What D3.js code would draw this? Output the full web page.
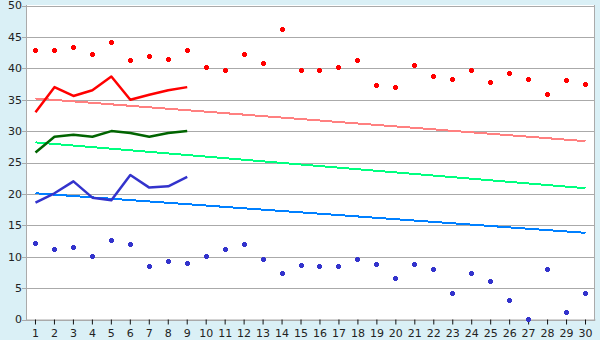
<!DOCTYPE html>
<html>
<head>
<meta charset="utf-8">
<script src="https://cdn.jsdelivr.net/npm/d3@7"></script>
<style>
  body { margin: 0; background: #daf0f6; }
  svg { display: block; font-family: "DejaVu Sans", Verdana, sans-serif; }
</style>
</head>
<body>
<svg width="600" height="340"></svg>
<script>
var svg = d3.select('svg');

// categories (days)
var days = d3.range(1, 31).map(String);
var yTicks = [0, 5, 10, 15, 20, 25, 30, 35, 40, 45, 50];

// scatter series
var redPoints = [42.7, 42.7, 43.2, 42.1, 44.0, 41.1, 41.8, 41.3, 42.7, 40.0,
                 39.5, 42.1, 40.7, 46.1, 39.5, 39.5, 40.0, 41.1, 37.2, 36.8,
                 40.3, 38.6, 38.1, 39.5, 37.6, 39.1, 38.1, 35.7, 37.9, 37.3];
var bluePoints = [12.0, 11.1, 11.4, 10.0, 12.5, 11.9, 8.4, 9.2, 8.8, 10.0,
                  11.1, 11.9, 9.5, 7.2, 8.5, 8.4, 8.4, 9.5, 8.7, 6.4,
                  8.7, 7.9, 4.0, 7.2, 6.0, 2.9, 0.0, 7.9, 1.0, 4.0];

// line series (first 9 days)
var redLine = [33.0, 37.0, 35.6, 36.5, 38.7, 35.0, 35.8, 36.5, 37.0];
var greenLine = [26.6, 29.1, 29.4, 29.1, 30.0, 29.7, 29.1, 29.7, 30.0];
var blueLine = [18.6, 20.1, 22.0, 19.4, 19.0, 23.0, 21.0, 21.2, 22.7];

// trend lines: value at day 1 and day 30
var redTrend = [35.2, 28.4];
var greenTrend = [28.2, 20.9];
var blueTrend = [20.1, 13.8];

var plotL = 26, plotR = 595, plotT = 5, plotB = 320;

var x = d3.scaleBand().domain(days).range([plotL, plotR]);
var cx = function(d) { return x(d) + x.bandwidth() / 2; };
var y = d3.scaleLinear().domain([0, 50]).range([plotB - 0.5, plotT + 0.5]);

// plot area
svg.append('rect')
  .attr('x', plotL).attr('y', plotT)
  .attr('width', plotR - plotL).attr('height', plotB - plotT)
  .attr('fill', '#fff');

// grid lines + y ticks
svg.append('g').selectAll('line').data(yTicks).join('line')
  .attr('x1', plotL - 4).attr('x2', plotR)
  .attr('y1', d => Math.round(y(d)) + 0.5).attr('y2', d => Math.round(y(d)) + 0.5)
  .attr('stroke', '#aaa');

svg.append('g').selectAll('text').data(yTicks).join('text')
  .attr('x', 22).attr('y', d => y(d))
  .attr('dy', '0.35em')
  .attr('text-anchor', 'end')
  .attr('font-size', 11)
  .attr('fill', '#222')
  .text(d => d);

// frame
svg.append('line').attr('x1', plotL + 0.5).attr('x2', plotL + 0.5)
  .attr('y1', plotT).attr('y2', plotB).attr('stroke', '#aaa');
svg.append('line').attr('x1', plotR - 0.5).attr('x2', plotR - 0.5)
  .attr('y1', plotT).attr('y2', plotB).attr('stroke', '#aaa');

// x axis
var xAxis = svg.append('g').attr('transform', 'translate(0,' + (plotB - 0.5) + ')')
  .call(d3.axisBottom(x).tickSize(5).tickSizeOuter(0));
xAxis.select('.domain').attr('stroke', '#aaa');
xAxis.selectAll('.tick line').attr('stroke', '#111');
xAxis.selectAll('.tick text')
  .attr('font-family', '"DejaVu Sans", Verdana, sans-serif')
  .attr('font-size', 11).attr('fill', '#222').attr('dy', '0.85em');

// trend lines
function trend(vals, color) {
  svg.append('path')
    .datum([[days[0], vals[0]], [days[days.length - 1], vals[1]]])
    .attr('d', d3.line().x(d => cx(d[0])).y(d => y(d[1])))
    .attr('fill', 'none')
    .attr('stroke', color)
    .attr('stroke-width', 2)
    .attr('shape-rendering', 'crispEdges');
}
trend(redTrend, '#ff8080');
trend(greenTrend, '#00ff80');
trend(blueTrend, '#0080ff');

// line series
function series(vals, color) {
  svg.append('path')
    .datum(vals)
    .attr('d', d3.line().x((d, i) => cx(days[i])).y(d => y(d)))
    .attr('fill', 'none')
    .attr('stroke', color)
    .attr('stroke-width', 2.5)
    .attr('stroke-linejoin', 'round');
}
series(redLine, '#ff0000');
series(greenLine, '#006400');
series(blueLine, '#3333cc');

// markers: small chunky cross
var marker = 'M-1,-3h3v1h1v3h-1v1h-3v-1h-1v-3h1z';
function points(vals, color) {
  svg.append('g').selectAll('path').data(vals).join('path')
    .attr('transform', (d, i) => 'translate(' + Math.floor(cx(days[i])) + ',' + Math.round(y(d)) + ')')
    .attr('d', marker)
    .attr('fill', color)
    .attr('shape-rendering', 'crispEdges');
}
points(redPoints, '#ff0000');
points(bluePoints, '#3333cc');
</script>
</body>
</html>
